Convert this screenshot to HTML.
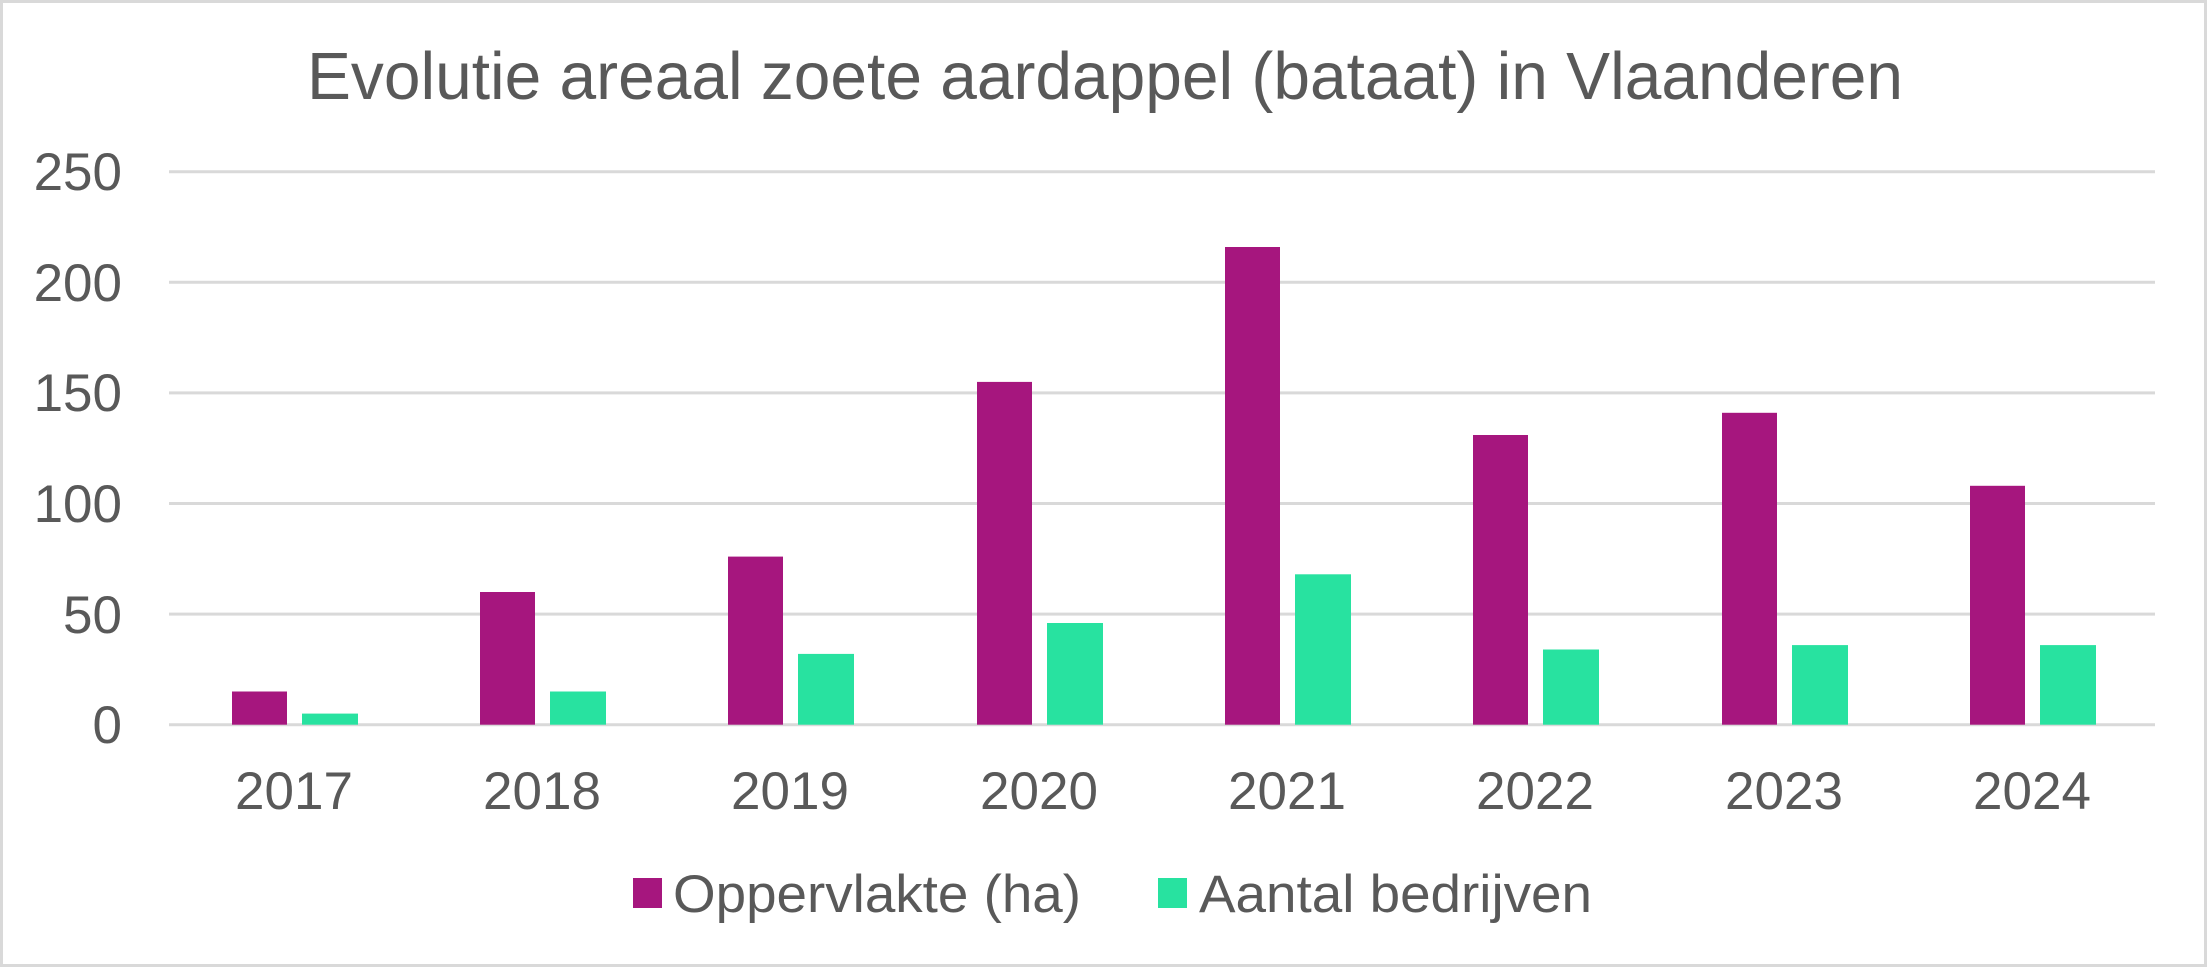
<!DOCTYPE html>
<html><head><meta charset="utf-8"><style>
html,body{margin:0;padding:0;background:#fff}
svg{display:block}
text{font-family:"Liberation Sans",Arial,sans-serif;fill:#595959}
</style></head><body>
<svg width="2207" height="967" viewBox="0 0 2207 967" xmlns="http://www.w3.org/2000/svg">
<rect x="1.5" y="1.5" width="2204" height="964" fill="#fff" stroke="#d9d9d9" stroke-width="3"/>
<text x="307" y="99" font-size="67" textLength="1596" lengthAdjust="spacingAndGlyphs">Evolutie areaal zoete aardappel (bataat) in Vlaanderen</text>
<g stroke="#d9d9d9" stroke-width="3">
<line x1="169" x2="2155" y1="171.7" y2="171.7"/>
<line x1="169" x2="2155" y1="282.3" y2="282.3"/>
<line x1="169" x2="2155" y1="392.9" y2="392.9"/>
<line x1="169" x2="2155" y1="503.5" y2="503.5"/>
<line x1="169" x2="2155" y1="614.1" y2="614.1"/>
<line x1="169" x2="2155" y1="724.7" y2="724.7"/>
</g>
<g font-size="53" text-anchor="end">
<text x="122" y="190">250</text>
<text x="122" y="301">200</text>
<text x="122" y="411">150</text>
<text x="122" y="522">100</text>
<text x="122" y="633">50</text>
<text x="122" y="743">0</text>
</g>
<g id="bars"></g>
<g font-size="53" text-anchor="middle">
<text x="294" y="809">2017</text>
<text x="542" y="809">2018</text>
<text x="790" y="809">2019</text>
<text x="1039" y="809">2020</text>
<text x="1287" y="809">2021</text>
<text x="1535" y="809">2022</text>
<text x="1784" y="809">2023</text>
<text x="2032" y="809">2024</text>
</g>
<rect x="633" y="878" width="29" height="30" fill="#a6167e"/>
<text x="673" y="912" font-size="53" textLength="408" lengthAdjust="spacingAndGlyphs">Oppervlakte (ha)</text>
<rect x="1158" y="878" width="29" height="30" fill="#28e2a0"/>
<text x="1199" y="912" font-size="53" textLength="393" lengthAdjust="spacingAndGlyphs">Aantal bedrijven</text>
<g>
<rect x="232" y="691.5" width="55" height="33.2" fill="#a6167e"/>
<rect x="302" y="713.6" width="56" height="11.1" fill="#28e2a0"/>
<rect x="480" y="592" width="55" height="132.7" fill="#a6167e"/>
<rect x="550" y="691.5" width="56" height="33.2" fill="#28e2a0"/>
<rect x="728" y="556.6" width="55" height="168.1" fill="#a6167e"/>
<rect x="798" y="653.9" width="56" height="70.8" fill="#28e2a0"/>
<rect x="977" y="381.9" width="55" height="342.8" fill="#a6167e"/>
<rect x="1047" y="623" width="56" height="101.7" fill="#28e2a0"/>
<rect x="1225" y="247" width="55" height="477.7" fill="#a6167e"/>
<rect x="1295" y="574.3" width="56" height="150.4" fill="#28e2a0"/>
<rect x="1473" y="435" width="55" height="289.7" fill="#a6167e"/>
<rect x="1543" y="649.5" width="56" height="75.2" fill="#28e2a0"/>
<rect x="1722" y="412.8" width="55" height="311.9" fill="#a6167e"/>
<rect x="1792" y="645.1" width="56" height="79.6" fill="#28e2a0"/>
<rect x="1970" y="485.8" width="55" height="238.9" fill="#a6167e"/>
<rect x="2040" y="645.1" width="56" height="79.6" fill="#28e2a0"/>
</g>
</svg>
</body></html>
